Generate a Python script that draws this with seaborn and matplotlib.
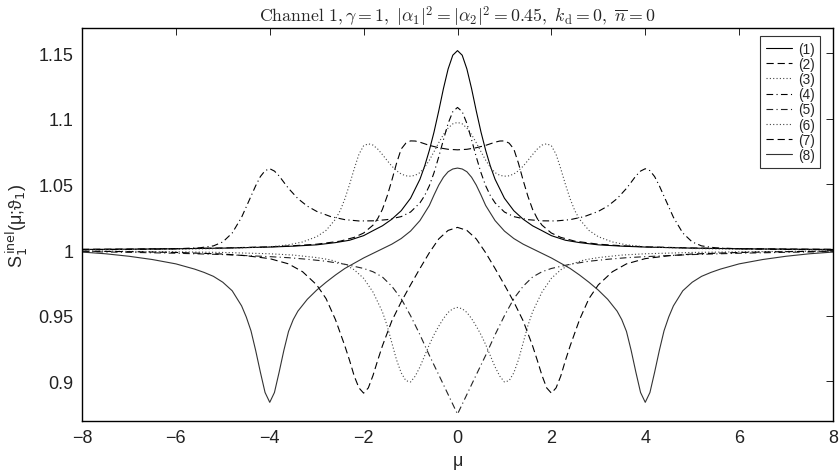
import matplotlib
matplotlib.use("Agg")
import matplotlib.pyplot as plt
import numpy as np
import pandas as pd
import seaborn as sns

# Inelastic spectra, one detuning grid per curve (denser where the curve bends)
mu_1 = [-8, -7, -6, -5, -4, -3.5, -3, -2.6, -2.3, -2, -1.8, -1.6, -1.4, -1.2, -1, -0.8,
        -0.7, -0.6, -0.5, -0.4, -0.3, -0.2, -0.1, 0, 0.1, 0.2, 0.3, 0.4, 0.5, 0.6, 0.7,
        0.8, 1, 1.2, 1.4, 1.6, 1.8, 2, 2.3, 2.6, 3, 3.5, 4, 5, 6, 7, 8]
s_1 = [1.0005, 1.0007, 1.001, 1.0015, 1.0023, 1.0030, 1.0040, 1.0057, 1.0075, 1.011,
       1.0148, 1.0185, 1.0235, 1.030, 1.0395, 1.054, 1.064, 1.076, 1.090, 1.106, 1.123,
       1.138, 1.1485, 1.152, 1.1485, 1.138, 1.123, 1.106, 1.090, 1.076, 1.064, 1.054,
       1.0395, 1.030, 1.0235, 1.0185, 1.0148, 1.011, 1.0075, 1.0057, 1.0040, 1.0030,
       1.0023, 1.0015, 1.001, 1.0007, 1.0005]

mu_2 = [-8, -7, -6, -5, -4, -3.5, -3, -2.5, -2.2, -2, -1.8, -1.7, -1.6, -1.5, -1.4, -1.3,
        -1.2, -1.1, -1, -0.9, -0.8, -0.6, -0.4, -0.2, 0, 0.2, 0.4, 0.6, 0.8, 0.9, 1, 1.1,
        1.2, 1.3, 1.4, 1.5, 1.6, 1.7, 1.8, 2, 2.2, 2.5, 3, 3.5, 4, 5, 6, 7, 8]
s_2 = [1.0006, 1.0008, 1.0011, 1.0016, 1.0025, 1.0033, 1.0045, 1.0068, 1.0097, 1.0130,
       1.0190, 1.0240, 1.0310, 1.0410, 1.0530, 1.0660, 1.0770, 1.0815, 1.0832, 1.0831,
       1.0822, 1.0798, 1.0780, 1.0768, 1.0764, 1.0768, 1.0780, 1.0798, 1.0822, 1.0831,
       1.0832, 1.0815, 1.0770, 1.0660, 1.0530, 1.0410, 1.0310, 1.0240, 1.0190, 1.0130,
       1.0097, 1.0068, 1.0045, 1.0033, 1.0025, 1.0016, 1.0011, 1.0008, 1.0006]

mu_3 = [-8, -7, -6, -5, -4, -3.6, -3.3, -3, -2.8, -2.6, -2.5, -2.4, -2.3, -2.2, -2.1, -2,
        -1.9, -1.8, -1.7, -1.6, -1.5, -1.4, -1.3, -1.2, -1.1, -1, -0.9, -0.8, -0.7, -0.6,
        -0.5, -0.4, -0.3, -0.2, -0.1, 0, 0.1, 0.2, 0.3, 0.4, 0.5, 0.6, 0.7, 0.8, 0.9, 1,
        1.1, 1.2, 1.3, 1.4, 1.5, 1.6, 1.7, 1.8, 1.9, 2, 2.1, 2.2, 2.3, 2.4, 2.5, 2.6, 2.8,
        3, 3.3, 3.6, 4, 5, 6, 7, 8]
s_3 = [1.0003, 1.0005, 1.0007, 1.0012, 1.0025, 1.0040, 1.0062, 1.0102, 1.0150, 1.0235,
       1.0300, 1.0390, 1.0500, 1.0620, 1.0730, 1.0795, 1.0810, 1.0800, 1.0770, 1.0728,
       1.0683, 1.0640, 1.0605, 1.0580, 1.0566, 1.0563, 1.0570, 1.0590, 1.0630, 1.0685,
       1.0750, 1.0818, 1.0880, 1.0930, 1.0962, 1.0973, 1.0962, 1.0930, 1.0880, 1.0818,
       1.0750, 1.0685, 1.0630, 1.0590, 1.0570, 1.0563, 1.0566, 1.0580, 1.0605, 1.0640,
       1.0683, 1.0728, 1.0770, 1.0800, 1.0810, 1.0795, 1.0730, 1.0620, 1.0500, 1.0390,
       1.0300, 1.0235, 1.0150, 1.0102, 1.0062, 1.0040, 1.0025, 1.0012, 1.0007, 1.0005,
       1.0003]

mu_4 = [-8, -7, -6, -5.5, -5.2, -5, -4.8, -4.6, -4.4, -4.3, -4.2, -4.1, -4, -3.9, -3.8,
        -3.7, -3.6, -3.4, -3.2, -3, -2.7, -2.4, -2.1, -1.8, -1.5, -1.2, -1, -0.8, -0.7,
        -0.6, -0.5, -0.4, -0.3, -0.2, -0.1, 0, 0.1, 0.2, 0.3, 0.4, 0.5, 0.6, 0.7, 0.8, 1,
        1.2, 1.5, 1.8, 2.1, 2.4, 2.7, 3, 3.2, 3.4, 3.6, 3.7, 3.8, 3.9, 4, 4.1, 4.2, 4.3,
        4.4, 4.6, 4.8, 5, 5.2, 5.5, 6, 7, 8]
s_4 = [1.0003, 1.0005, 1.0010, 1.0017, 1.0032, 1.0062, 1.0130, 1.0250, 1.0410, 1.0490,
       1.0560, 1.0605, 1.0620, 1.0602, 1.0565, 1.0517, 1.0470, 1.0392, 1.0335, 1.0295,
       1.0255, 1.0232, 1.0222, 1.0223, 1.0232, 1.0255, 1.0290, 1.0360, 1.0415, 1.0490,
       1.0590, 1.0710, 1.0840, 1.0965, 1.1055, 1.1087, 1.1055, 1.0965, 1.0840, 1.0710,
       1.0590, 1.0490, 1.0415, 1.0360, 1.0290, 1.0255, 1.0232, 1.0223, 1.0222, 1.0232,
       1.0255, 1.0295, 1.0335, 1.0392, 1.0470, 1.0517, 1.0565, 1.0602, 1.0620, 1.0605,
       1.0560, 1.0490, 1.0410, 1.0250, 1.0130, 1.0062, 1.0032, 1.0017, 1.0010, 1.0005,
       1.0003]

mu_5 = [-8, -7, -6, -5, -4, -3.6, -3.2, -2.8, -2.4, -2, -1.8, -1.6, -1.4, -1.2, -1, -0.8,
        -0.6, -0.4, -0.2, -0.1, 0, 0.1, 0.2, 0.4, 0.6, 0.8, 1, 1.2, 1.4, 1.6, 1.8, 2, 2.4,
        2.8, 3.2, 3.6, 4, 5, 6, 7, 8]
s_5 = [0.9988, 0.9983, 0.9976, 0.9966, 0.995, 0.9942, 0.993, 0.9915, 0.9892, 0.986,
       0.9835, 0.9795, 0.9725, 0.963, 0.950, 0.9355, 0.9198, 0.905, 0.890, 0.8825, 0.875,
       0.8825, 0.890, 0.905, 0.9198, 0.9355, 0.950, 0.963, 0.9725, 0.9795, 0.9835, 0.986,
       0.9892, 0.9915, 0.993, 0.9942, 0.995, 0.9966, 0.9976, 0.9983, 0.9988]

mu_6 = [-8, -7, -6, -5, -4, -3.5, -3, -2.7, -2.4, -2.2, -2, -1.8, -1.6, -1.5, -1.4, -1.3,
        -1.2, -1.1, -1, -0.9, -0.8, -0.7, -0.6, -0.5, -0.4, -0.3, -0.2, -0.1, 0, 0.1, 0.2,
        0.3, 0.4, 0.5, 0.6, 0.7, 0.8, 0.9, 1, 1.1, 1.2, 1.3, 1.4, 1.5, 1.6, 1.8, 2, 2.2,
        2.4, 2.7, 3, 3.5, 4, 5, 6, 7, 8]
s_6 = [0.9993, 0.9990, 0.9987, 0.9982, 0.9972, 0.9962, 0.9943, 0.9925, 0.9890, 0.9850,
       0.9785, 0.9680, 0.9530, 0.9425, 0.9295, 0.9165, 0.9065, 0.9005, 0.8995, 0.9040,
       0.9110, 0.9195, 0.9280, 0.9355, 0.9420, 0.9478, 0.9525, 0.9553, 0.9563, 0.9553,
       0.9525, 0.9478, 0.9420, 0.9355, 0.9280, 0.9195, 0.9110, 0.9040, 0.8995, 0.9005,
       0.9065, 0.9165, 0.9295, 0.9425, 0.9530, 0.9680, 0.9785, 0.9850, 0.9890, 0.9925,
       0.9943, 0.9962, 0.9972, 0.9982, 0.9987, 0.9990, 0.9993]

mu_7 = [-8, -7, -6, -5, -4.5, -4, -3.6, -3.3, -3, -2.8, -2.6, -2.4, -2.3, -2.2, -2.1, -2,
        -1.9, -1.8, -1.7, -1.6, -1.4, -1.2, -1, -0.8, -0.6, -0.4, -0.2, 0, 0.2, 0.4, 0.6,
        0.8, 1, 1.2, 1.4, 1.6, 1.7, 1.8, 1.9, 2, 2.1, 2.2, 2.3, 2.4, 2.6, 2.8, 3, 3.3, 3.6,
        4, 4.5, 5, 6, 7, 8]
s_7 = [0.9992, 0.9988, 0.9982, 0.9970, 0.9957, 0.9935, 0.9895, 0.9835, 0.9735, 0.9630,
       0.9470, 0.9270, 0.9160, 0.9040, 0.8950, 0.8910, 0.8950, 0.9045, 0.9160, 0.9270,
       0.9460, 0.9605, 0.9735, 0.9860, 0.9980, 1.0085, 1.0150, 1.0173, 1.0150, 1.0085,
       0.9980, 0.9860, 0.9735, 0.9605, 0.9460, 0.9270, 0.9160, 0.9045, 0.8950, 0.8910,
       0.8950, 0.9040, 0.9160, 0.9270, 0.9470, 0.9630, 0.9735, 0.9835, 0.9895, 0.9935,
       0.9957, 0.9970, 0.9982, 0.9988, 0.9992]

mu_8 = [-8, -7.5, -7, -6.5, -6, -5.8, -5.6, -5.4, -5.2, -5, -4.8, -4.6, -4.5, -4.4, -4.3,
        -4.2, -4.1, -4, -3.9, -3.8, -3.7, -3.6, -3.5, -3.4, -3.2, -3, -2.8, -2.6, -2.4,
        -2.2, -2, -1.8, -1.6, -1.4, -1.2, -1, -0.8, -0.6, -0.5, -0.4, -0.3, -0.2, -0.1, 0,
        0.1, 0.2, 0.3, 0.4, 0.5, 0.6, 0.8, 1, 1.2, 1.4, 1.6, 1.8, 2, 2.2, 2.4, 2.6, 2.8, 3,
        3.2, 3.4, 3.5, 3.6, 3.7, 3.8, 3.9, 4, 4.1, 4.2, 4.3, 4.4, 4.5, 4.6, 4.8, 5, 5.2,
        5.4, 5.6, 5.8, 6, 6.5, 7, 7.5, 8]
s_8 = [0.9985, 0.9972, 0.9953, 0.9928, 0.9895, 0.9875, 0.9855, 0.9830, 0.9800, 0.9755,
       0.9690, 0.9575, 0.9490, 0.9385, 0.9235, 0.9070, 0.8915, 0.8840, 0.8915, 0.9070,
       0.9235, 0.9380, 0.9470, 0.9535, 0.9625, 0.9695, 0.9755, 0.9810, 0.9860, 0.9900,
       0.9940, 0.9975, 1.0010, 1.0045, 1.0088, 1.0145, 1.0225, 1.0340, 1.0420, 1.0495,
       1.0555, 1.0597, 1.0618, 1.0625, 1.0618, 1.0597, 1.0555, 1.0495, 1.0420, 1.0340,
       1.0225, 1.0145, 1.0088, 1.0045, 1.0010, 0.9975, 0.9940, 0.9900, 0.9860, 0.9810,
       0.9755, 0.9695, 0.9625, 0.9535, 0.9470, 0.9380, 0.9235, 0.9070, 0.8915, 0.8840,
       0.8915, 0.9070, 0.9235, 0.9385, 0.9490, 0.9575, 0.9690, 0.9755, 0.9800, 0.9830,
       0.9855, 0.9875, 0.9895, 0.9928, 0.9953, 0.9972, 0.9985]

labels = ["(1)", "(2)", "(3)", "(4)", "(5)", "(6)", "(7)", "(8)"]
grids = [mu_1, mu_2, mu_3, mu_4, mu_5, mu_6, mu_7, mu_8]
series = [s_1, s_2, s_3, s_4, s_5, s_6, s_7, s_8]

x_ticks = [-8, -6, -4, -2, 0, 2, 4, 6, 8]
y_ticks = [0.9, 0.95, 1.0, 1.05, 1.1, 1.15]
y_tick_labels = ["0.9", "0.95", "1", "1.05", "1.1", "1.15"]

# Line appearance per curve
dash_dot = (0, (6, 3, 1, 3))
dashed = (0, (6.5, 3.5))
dotted = (0, (1, 2))
styles = ["-", dashed, dotted, dash_dot, dash_dot, dotted, dashed, "-"]
colors = ["black", "black", "#444444", "black", "#222222", "#444444", "black", "#333333"]

sns.set_style("white")
plt.rcParams["font.family"] = ["Liberation Sans", "DejaVu Sans"]
plt.rcParams["axes.unicode_minus"] = True

df = pd.concat([pd.DataFrame({"mu": g, "S": s, "curve": lab})
                for g, s, lab in zip(grids, series, labels)], ignore_index=True)

fig = plt.figure(figsize=(8.4, 4.77), dpi=100)
ax = fig.add_axes([82 / 840, 1 - 421.7 / 477, (833 - 82) / 840, (421.7 - 29.3) / 477])

for lab, ls, col in zip(labels, styles, colors):
    sub = df[df["curve"] == lab]
    sns.lineplot(data=sub, x="mu", y="S", ax=ax, color=col, linestyle=ls,
                 linewidth=0.8, label=lab, estimator=None, sort=False)

ax.set_xlim(-8, 8)
ax.set_ylim(0.870, 1.169)
ax.set_xticks(x_ticks)
ax.set_yticks(y_ticks)
ax.set_yticklabels(y_tick_labels)
ax.tick_params(direction="in", length=5, width=0.7, top=True, right=True,
               labelsize=13, pad=6, colors="#222222")
for sp in ax.spines.values():
    sp.set_linewidth(1.0)
    sp.set_color("black")
    sp.set_visible(True)

ax.set_xlabel("μ", fontsize=13, labelpad=4)
ax.set_ylabel(r"S$_1^{\,\rm inel}$(μ;ϑ$_1$)", fontsize=13, labelpad=6,
              math_fontfamily="dejavusans")

ax.set_title(r"$\mathrm{Channel\ 1,}\gamma=1,\ |\alpha_1|^2=|\alpha_2|^2=0.45,\ k_{\mathrm{d}}=0,\ \overline{n}=0$",
             fontsize=12.8, math_fontfamily="cm", pad=5)

leg = ax.legend(loc="upper right", bbox_to_anchor=(0.9827, 0.980), borderaxespad=0,
                fontsize=9.8, frameon=True, fancybox=False, framealpha=1,
                edgecolor="#333333", labelspacing=0.09, handlelength=1.9,
                handletextpad=0.45, borderpad=0.4)
leg.get_frame().set_linewidth(0.8)

fig.savefig("out.png", dpi=100)
